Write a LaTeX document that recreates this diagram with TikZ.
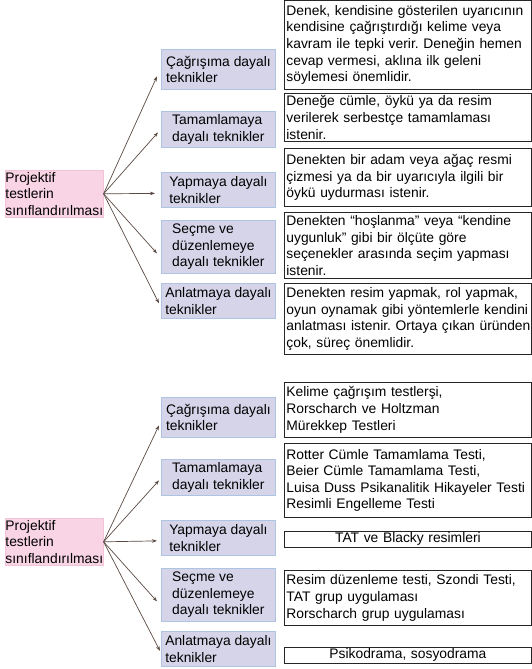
\documentclass[tikz,border=0pt]{standalone}
\usepackage{fontspec}
\setmainfont{Liberation Sans}
\usetikzlibrary{arrows.meta}
\frenchspacing
\hyphenpenalty=10000
\definecolor{rootpink}{HTML}{F9D4E4}
\definecolor{rootedge}{HTML}{F3C3D7}
\definecolor{kindfill}{HTML}{D6D4E9}
\definecolor{kindedge}{HTML}{AFC3E3}
\definecolor{arrowbrown}{HTML}{5A4A42}
\tikzset{
rootbox/.style={
  draw=rootedge,fill=rootpink,line width=0.6bp,
  anchor=north west,align=left,inner sep=0bp,
  minimum width=98bp,minimum height=47bp},
kindbox/.style={
  draw=kindedge,fill=kindfill,line width=0.8bp,
  anchor=north west,align=left,inner sep=1bp,
  minimum width=114bp},
descbox/.style={
  draw=black!85,line width=0.8bp,
  anchor=north west,align=left,inner xsep=2bp,inner ysep=1bp,
  text width=243bp},
toarrow/.style={
  draw=arrowbrown,line width=0.7bp,
  -{Stealth[length=5bp,width=3.5bp]}}}

\begin{document}
\begin{tikzpicture}[x=1bp,y=-1bp,font=\fontsize{13.9}{16.7}\selectfont]
\useasboundingbox (0,0) rectangle (532,669);

% upper chart: kinds of technique and what they ask of the subject
\node[rootbox] (root1) at (5,170) {Projektif\\testlerin\\sınıflandırılması};
\node[kindbox,minimum height=40bp] (cag1) at (161,49) {Çağrışıma dayalı\\teknikler};
\node[kindbox,minimum height=36bp] (tam1) at (161,111) {Tamamlamaya\\dayalı teknikler};
\node[kindbox,minimum height=35bp] (yap1) at (161,172) {Yapmaya dayalı\\teknikler};
\node[kindbox,minimum height=53bp] (sec1) at (161,220) {Seçme ve\\düzenlemeye\\dayalı teknikler};
\node[kindbox,minimum height=35bp] (anl1) at (161,283) {Anlatmaya dayalı\\teknikler};

\draw[toarrow] (root1.east) -- ([xshift=-4bp,yshift=-7bp]cag1.west);
\draw[toarrow] (root1.east) -- ([xshift=-3bp,yshift=-3bp]tam1.west);
\draw[toarrow] (root1.east) -- ([xshift=-6bp,yshift=-3.5bp]yap1.west);
\draw[toarrow] (root1.east) -- ([xshift=-4bp,yshift=-6.5bp]sec1.west);
\draw[toarrow] (root1.east) -- ([xshift=-2bp,yshift=-2.5bp]anl1.west);

\node[descbox,minimum height=88bp] (cagtext) at (284,0.5) {Denek, kendisine gösterilen uyarıcının\\kendisine çağrıştırdığı kelime veya\\kavram ile tepki verir. Deneğin hemen\\cevap vermesi, aklına ilk geleni\\söylemesi önemlidir.};
\node[descbox,minimum height=48bp] (tamtext) at (284,93) {Deneğe cümle, öykü ya da resim\\verilerek serbestçe tamamlaması\\istenir.};
\node[descbox,minimum height=58bp] (yaptext) at (284,148) {Denekten bir adam veya ağaç resmi\\çizmesi ya da bir uyarıcıyla ilgili bir\\öykü uydurması istenir.};
\node[descbox,minimum height=66bp] (sectext) at (284,212) {Denekten “hoşlanma” veya “kendine\\uygunluk” gibi bir ölçüte göre\\seçenekler arasında seçim yapması\\istenir.};
\node[descbox,minimum height=71bp] (anltext) at (284,283) {Denekten resim yapmak, rol yapmak,\\\mbox{oyun oynamak gibi yöntemlerle kendini}\\\mbox{anlatması istenir. Ortaya çıkan üründen}\\çok, süreç önemlidir.};

% lower chart: same kinds, with the tests that belong to them
\node[rootbox] (root2) at (5,518) {Projektif\\testlerin\\sınıflandırılması};
\node[kindbox,minimum height=40bp] (cag2) at (161,397) {Çağrışıma dayalı\\teknikler};
\node[kindbox,minimum height=36bp] (tam2) at (161,459) {Tamamlamaya\\dayalı teknikler};
\node[kindbox,minimum height=35bp] (yap2) at (161,520) {Yapmaya dayalı\\teknikler};
\node[kindbox,minimum height=53bp] (sec2) at (161,568) {Seçme ve\\düzenlemeye\\dayalı teknikler};
\node[kindbox,minimum height=35bp] (anl2) at (161,631) {Anlatmaya dayalı\\teknikler};

\draw[toarrow] (root2.east) -- ([xshift=-2bp,yshift=-8bp]cag2.west);
\draw[toarrow] (root2.east) -- ([xshift=-2bp,yshift=-3bp]tam2.west);
\draw[toarrow] (root2.east) -- ([xshift=-4bp,yshift=-3bp]yap2.west);
\draw[toarrow] (root2.east) -- ([xshift=-4bp,yshift=-6.5bp]sec2.west);
\draw[toarrow] (root2.east) -- ([xshift=-1bp,yshift=-2bp]anl2.west);

\node[descbox,minimum height=55bp] (cagtest) at (284,382) {Kelime çağrışım testlerşi,\\Rorscharch ve Holtzman\\Mürekkep Testleri};
\node[descbox,minimum height=74bp] (tamtest) at (284,443) {Rotter Cümle Tamamlama Testi,\\Beier Cümle Tamamlama Testi,\\\mbox{Luisa Duss Psikanalitik Hikayeler Testi}\\Resimli Engelleme Testi};
\node[descbox,align=center,minimum height=16bp] (yaptest) at (284,531) {TAT ve Blacky resimleri};
\node[descbox,minimum height=55bp] (sectest) at (284,570) {Resim düzenleme testi, Szondi Testi,\\TAT grup uygulaması\\Rorscharch grup uygulaması};
\node[descbox,align=center,minimum height=16bp] (anltest) at (284,647) {Psikodrama, sosyodrama};
\end{tikzpicture}
\end{document}
